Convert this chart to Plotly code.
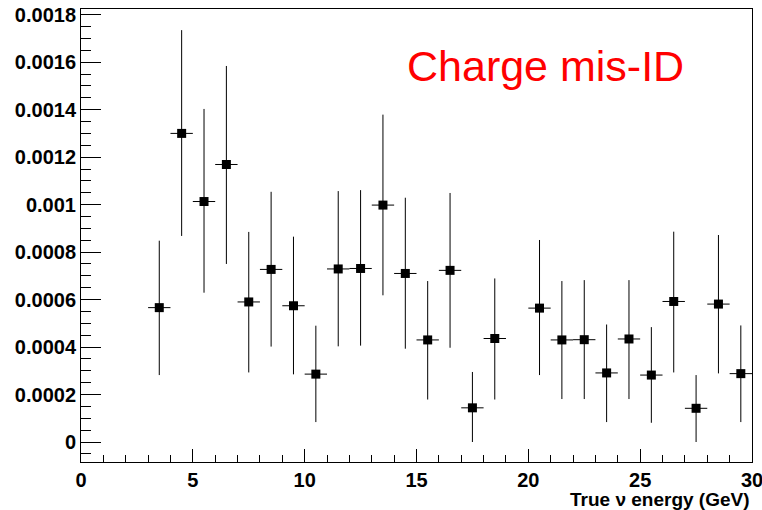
import plotly.graph_objects as go

# Bin centres (GeV)
energy = [3.5, 4.5, 5.5, 6.5, 7.5, 8.5, 9.5, 10.5, 11.5, 12.5, 13.5, 14.5, 15.5,
          16.5, 17.5, 18.5, 20.5, 21.5, 22.5, 23.5, 24.5, 25.5, 26.5, 27.5, 28.5, 29.5]
# Charge mis-ID rate
rate = [0.000566, 0.00130, 0.001013, 0.001169, 0.000590, 0.000727, 0.000574, 0.000286,
        0.000729, 0.000731, 0.000998, 0.000710, 0.000430, 0.000723, 0.000144, 0.000436,
        0.000564, 0.000430, 0.000431, 0.000291, 0.000434, 0.000282, 0.000592, 0.000142,
        0.000581, 0.000288]
# Upper / lower ends of the error bars
upper = [0.000848, 0.001735, 0.001403, 0.001584, 0.000885, 0.001054, 0.000865, 0.000490,
         0.001057, 0.001061, 0.001379, 0.001029, 0.000678, 0.001049, 0.000295, 0.000689,
         0.000851, 0.000678, 0.000682, 0.000495, 0.000682, 0.000484, 0.000886, 0.000282,
         0.000872, 0.000491]
lower = [0.000282, 0.000868, 0.000629, 0.000750, 0.000293, 0.000402, 0.000285, 0.000084,
         0.000403, 0.000406, 0.000618, 0.000393, 0.000179, 0.000397, 0.0, 0.000179,
         0.000282, 0.000181, 0.000181, 0.000084, 0.000181, 0.000081, 0.000293, 0.0,
         0.000289, 0.000084]
bin_half_width = [0.5] * len(energy)

y_tick_vals = [0, 0.0002, 0.0004, 0.0006, 0.0008, 0.001, 0.0012, 0.0014, 0.0016, 0.0018]
y_tick_text = ["0", "0.0002", "0.0004", "0.0006", "0.0008", "0.001", "0.0012",
               "0.0014", "0.0016", "0.0018"]
x_tick_vals = [0, 5, 10, 15, 20, 25, 30]
x_tick_text = ["0", "5", "10", "15", "20", "25", "30"]

err_plus = [u - v for u, v in zip(upper, rate)]
err_minus = [v - l for v, l in zip(rate, lower)]

fig = go.Figure()
fig.add_trace(go.Scatter(
    x=energy, y=rate, mode="markers",
    marker=dict(symbol="square", size=9, color="black"),
    error_x=dict(type="data", array=bin_half_width, symmetric=True,
                 color="black", thickness=1, width=0),
    error_y=dict(type="data", array=err_plus, arrayminus=err_minus, symmetric=False,
                 color="black", thickness=1, width=0),
    showlegend=False,
))

L, R, T, B = 81, 10, 9, 48
W, H = 762, 510
pw, ph = W - L - R, H - T - B

labfont = dict(family="Liberation Sans", size=20, color="black", weight="bold")
fig.update_layout(
    width=W, height=H,
    margin=dict(l=L, r=R, t=T, b=B, pad=0, autoexpand=False),
    paper_bgcolor="white", plot_bgcolor="white",
    xaxis=dict(range=[0, 30], tickvals=x_tick_vals, ticktext=x_tick_text,
               ticks="inside", ticklen=13, tickwidth=1, tickcolor="black",
               minor=dict(dtick=1, ticks="inside", ticklen=7, tickwidth=1, tickcolor="black"),
               showline=True, linecolor="black", linewidth=1, mirror=True,
               showgrid=False, zeroline=False, ticklabeloverflow="allow",
               automargin=False, tickfont=labfont),
    yaxis=dict(range=[-0.0000842, 0.001824], tickvals=y_tick_vals, ticktext=y_tick_text,
               ticks="inside", ticklen=20, tickwidth=1, tickcolor="black",
               minor=dict(dtick=0.00005, tick0=0, ticks="inside", ticklen=10, tickwidth=1,
                          tickcolor="black"),
               showline=True, linecolor="black", linewidth=1, mirror=True,
               showgrid=False, zeroline=False, ticklabeloverflow="allow",
               automargin=False, tickfont=labfont),
    annotations=[
        dict(text="Charge mis-ID", xref="paper", yref="paper",
             x=(545 - L) / pw, y=1 - (66 - T) / ph, xanchor="center", yanchor="middle",
             showarrow=False,
             font=dict(family="Liberation Sans", size=43, color="red")),
        dict(text="True ν energy (GeV)", xref="paper", yref="paper",
             x=1, y=-(487 - (H - B)) / ph, xanchor="right", yanchor="top",
             showarrow=False,
             font=dict(family="Liberation Sans", size=19, color="black", weight="bold")),
    ],
)

fig.write_html("out.html")
